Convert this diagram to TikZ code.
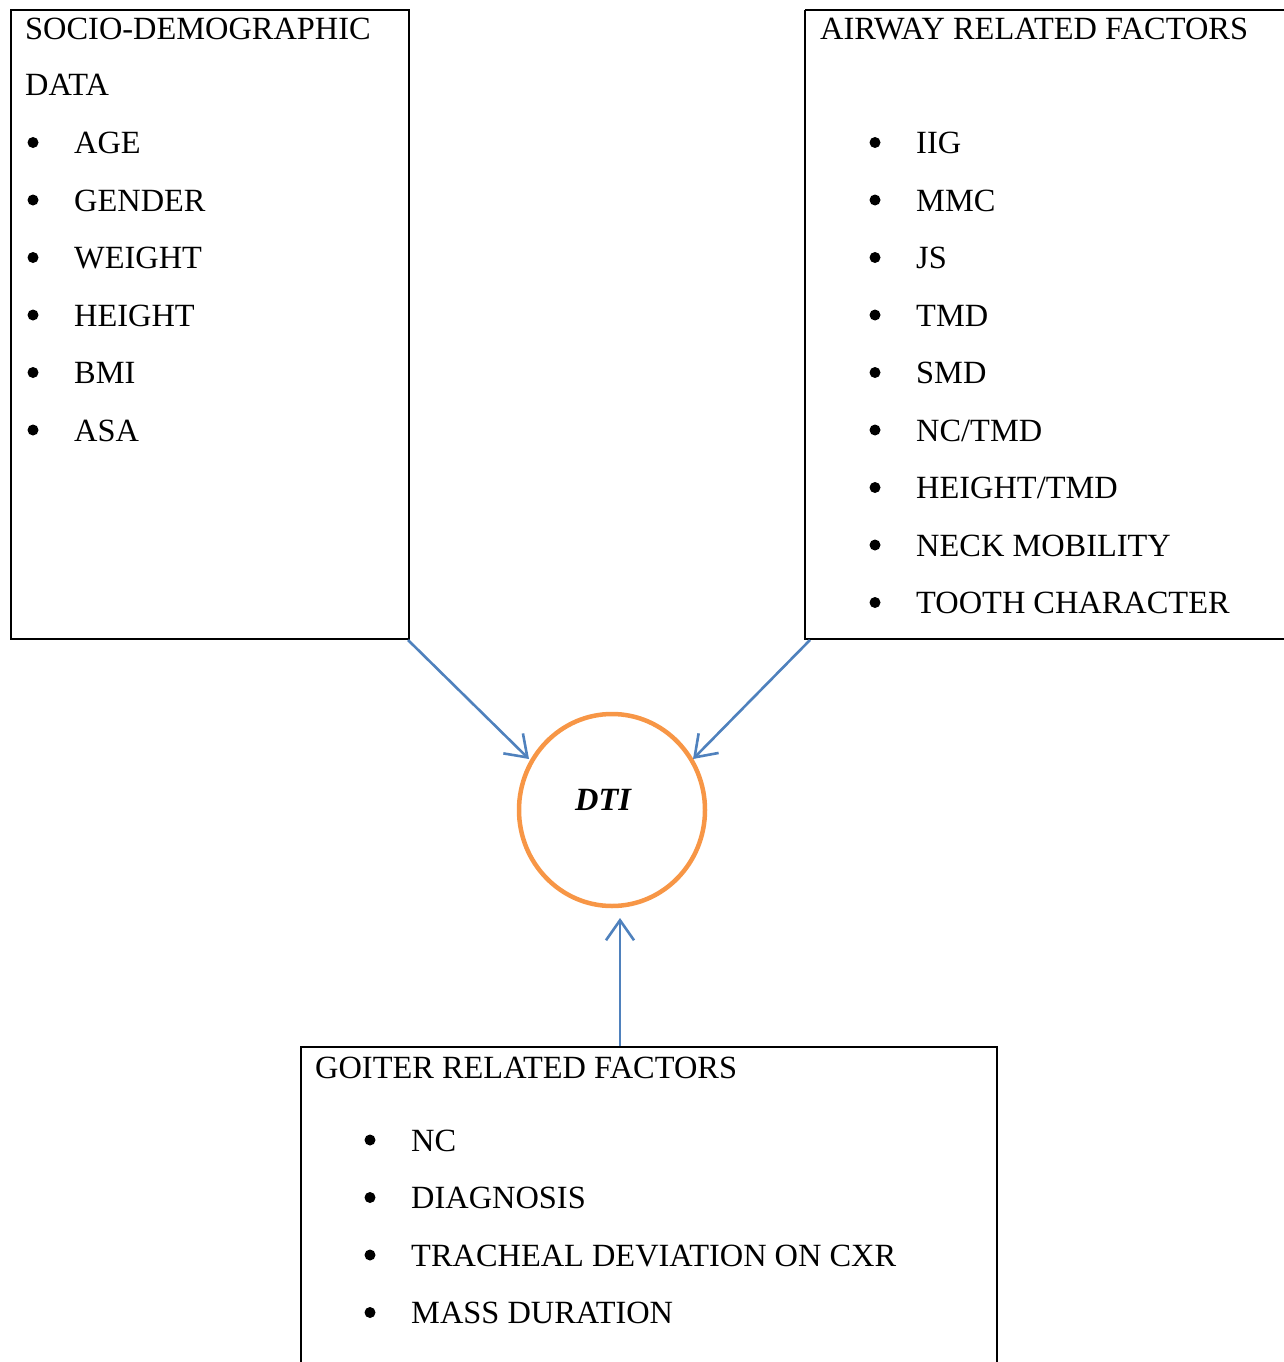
\documentclass[tikz,border=0pt]{standalone}
\usepackage{fontspec}
\setmainfont{Liberation Serif}
\usetikzlibrary{arrows.meta,shapes.geometric}
\definecolor{boxblue}{HTML}{4F81BD}
\definecolor{ringorange}{HTML}{F79646}
\begin{document}
\begin{tikzpicture}[x=1pt,y=-1pt,
  txt/.style={anchor=base west,inner sep=0pt,font=\fontsize{32.4}{38}\selectfont},
  dot/.style={circle,fill=black,inner sep=0pt,minimum size=11pt},
  frame/.style={draw=black,line width=2.2pt},
  link/.style={draw=boxblue,line width=2.6pt,-{Straight Barb[length=20pt,width=28pt,line width=2.6pt]}}]
\useasboundingbox (0,0) rectangle (1284,1362);
% boxes
\draw[frame] (11,10) rectangle (409,639);
\draw[frame] (805,10) -- (1290,10) (805,10) -- (805,639) -- (1290,639);
\draw[frame] (301,1370) -- (301,1047) -- (997,1047) -- (997,1370);
\coordinate (lbc) at (408,640);
\coordinate (rbc) at (810,640);
\coordinate (bbc) at (620,1046);
% circle
\node[draw=ringorange,line width=4.5pt,ellipse,minimum width=186pt,minimum height=192pt,inner sep=0pt] (dti) at (612,810) {};
\node[anchor=base,inner sep=0pt,font=\fontsize{32.4}{38}\selectfont\bfseries\itshape] (dtit) at (603,810) {DTI};
% arrows
\draw[link] (lbc) -- (529,759);
\draw[link] (rbc) -- (693,759);
\draw[link] (bbc) -- (620,918);
% left box text
\node[txt] (l0) at (25,40) {SOCIO-DEMOGRAPHIC};
\node[txt] (l1) at (25,96) {DATA};
\foreach \t [count=\i] in {AGE,GENDER,WEIGHT,HEIGHT,BMI,ASA}{
  \node[dot] (lb\i) at (33,85+57.5*\i) {};
  \node[txt] (li\i) at (74,96+57.5*\i) {\t};
}
% right box text
\node[txt] (r0) at (820,40) {AIRWAY RELATED FACTORS};
\foreach \t [count=\i] in {IIG,MMC,JS,TMD,SMD,NC/TMD,HEIGHT/TMD,NECK MOBILITY,TOOTH CHARACTER}{
  \node[dot] (rb\i) at (875,85+57.5*\i) {};
  \node[txt] (ri\i) at (916,96+57.5*\i) {\t};
}
% bottom box text
\node[txt] (b0) at (315,1078) {GOITER RELATED FACTORS};
\foreach \t [count=\i] in {NC,DIAGNOSIS,TRACHEAL DEVIATION ON CXR,MASS DURATION}{
  \node[dot] (bb\i) at (370,1082.5+57.5*\i) {};
  \node[txt] (bi\i) at (411,1093.5+57.5*\i) {\t};
}
\end{tikzpicture}
\end{document}
